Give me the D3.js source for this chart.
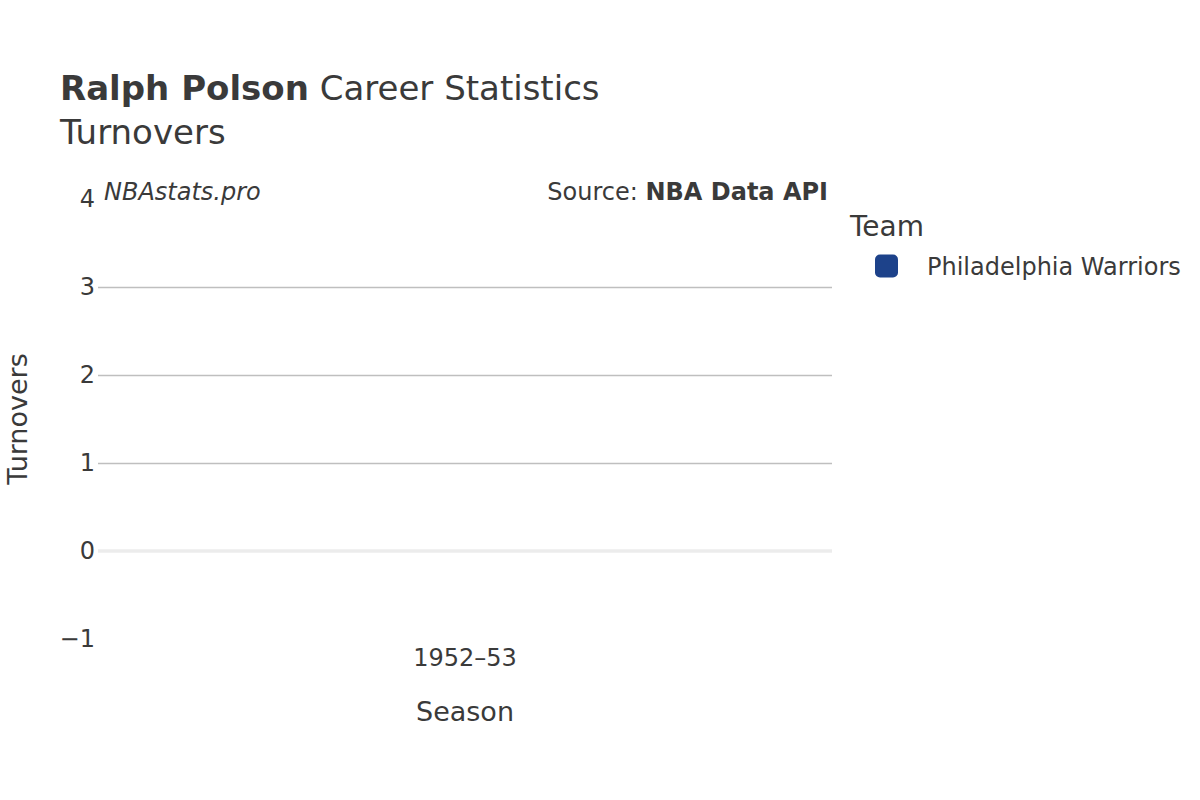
<!DOCTYPE html>
<html>
<head>
<meta charset="utf-8">
<script src="https://cdn.jsdelivr.net/npm/d3@7"></script>
<style>
  body { margin: 0; background: #fff; }
  text { font-family: "DejaVu Sans", sans-serif; fill: #3a3a3a; }
</style>
</head>
<body>
<div class="chart"></div>
<script>
// chart data
const seasons = ["1952–53"];
const teams = ["Philadelphia Warriors"];
const teamColors = ["#1d428a"];
const turnovers = [null]; // not recorded that season
const yTicks = [-1, 0, 1, 2, 3, 4];

const width = 1200;
const height = 800;
const margin = { top: 199, right: 368, bottom: 161, left: 98 };

let svg = d3.select(".chart").append("svg")
  .attr("width", width)
  .attr("height", height);

let x = d3.scaleBand()
  .domain(seasons)
  .range([margin.left, width - margin.right])
  .padding(0.2);

let y = d3.scaleLinear()
  .domain([-1, 4])
  .range([height - margin.bottom, margin.top]);

// gridlines
let yGrid = d3.axisLeft(y)
  .tickValues(yTicks.filter(d => d > 0 && d < 4))
  .tickSize(-(width - margin.right - margin.left))
  .tickFormat("");

svg.append("g")
  .attr("class", "grid")
  .attr("transform", `translate(${margin.left},0)`)
  .call(yGrid)
  .call(g => g.select(".domain").remove())
  .selectAll(".tick line")
  .attr("stroke", "#bfbfbf")
  .attr("stroke-width", 1.6);

// zero line
svg.append("line")
  .attr("x1", margin.left)
  .attr("x2", width - margin.right)
  .attr("y1", y(0))
  .attr("y2", y(0))
  .attr("stroke", "#ececec")
  .attr("stroke-width", 3.5);

// y axis labels
let yAxis = d3.axisLeft(y)
  .tickValues(yTicks)
  .tickSize(0)
  .tickPadding(3)
  .tickFormat(d => d < 0 ? "\u2212" + Math.abs(d) : d);

svg.append("g")
  .attr("class", "axis yAxis")
  .attr("transform", `translate(${margin.left},0)`)
  .call(yAxis)
  .call(g => g.select(".domain").remove())
  .selectAll("text")
  .style("font-size", "24px")
  .attr("fill", "#3a3a3a");

// x axis labels
let xAxis = d3.axisBottom(x)
  .tickSize(0)
  .tickPadding(0);

svg.append("g")
  .attr("class", "axis xAxis")
  .attr("transform", `translate(0,${height - margin.bottom + 10})`)
  .call(xAxis)
  .call(g => g.select(".domain").remove())
  .selectAll("text")
  .style("font-size", "24px")
  .attr("fill", "#3a3a3a");

// bars (only seasons with a value)
svg.selectAll("rect.bar")
  .data(seasons.map((s, i) => ({ season: s, value: turnovers[i] })).filter(d => d.value != null))
  .enter()
  .append("rect")
  .attr("class", "bar")
  .attr("x", d => x(d.season))
  .attr("width", x.bandwidth())
  .attr("y", d => y(Math.max(0, d.value)))
  .attr("height", d => Math.abs(y(d.value) - y(0)))
  .style("fill", teamColors[0]);

// titles
let title = svg.append("text")
  .attr("x", 60)
  .attr("y", 100)
  .style("font-size", "34px");
title.append("tspan").style("font-weight", "bold").text("Ralph Polson");
title.append("tspan").text(" Career Statistics");

svg.append("text")
  .attr("x", 60)
  .attr("y", 144)
  .style("font-size", "34px")
  .text("Turnovers");

svg.append("text")
  .attr("x", 104)
  .attr("y", 200)
  .style("font-size", "24px")
  .style("font-style", "italic")
  .text("NBAstats.pro");

let source = svg.append("text")
  .attr("x", 828)
  .attr("y", 200)
  .style("text-anchor", "end")
  .style("font-size", "24px");
source.append("tspan").text("Source: ");
source.append("tspan").style("font-weight", "bold").text("NBA Data API");

// axis titles
svg.append("text")
  .attr("x", (margin.left + width - margin.right) / 2)
  .attr("y", 721)
  .style("text-anchor", "middle")
  .style("font-size", "27px")
  .text("Season");

svg.append("text")
  .attr("transform", `translate(27,${(margin.top + height - margin.bottom) / 2}) rotate(-90)`)
  .style("text-anchor", "middle")
  .style("font-size", "27px")
  .text("Turnovers");

// legend
let legend = svg.append("g").attr("class", "legend");

legend.append("text")
  .attr("x", 850)
  .attr("y", 236)
  .style("font-size", "28px")
  .text("Team");

let items = legend.selectAll("g.item")
  .data(teams)
  .enter()
  .append("g")
  .attr("class", "item")
  .attr("transform", (d, i) => `translate(0,${266 + i * 30})`);

items.append("rect")
  .attr("x", 875)
  .attr("y", -11.5)
  .attr("width", 23)
  .attr("height", 23)
  .attr("rx", 5)
  .style("fill", (d, i) => teamColors[i]);

items.append("text")
  .attr("x", 927)
  .attr("y", 8.5)
  .style("font-size", "24px")
  .text(d => d);
</script>
</body>
</html>
